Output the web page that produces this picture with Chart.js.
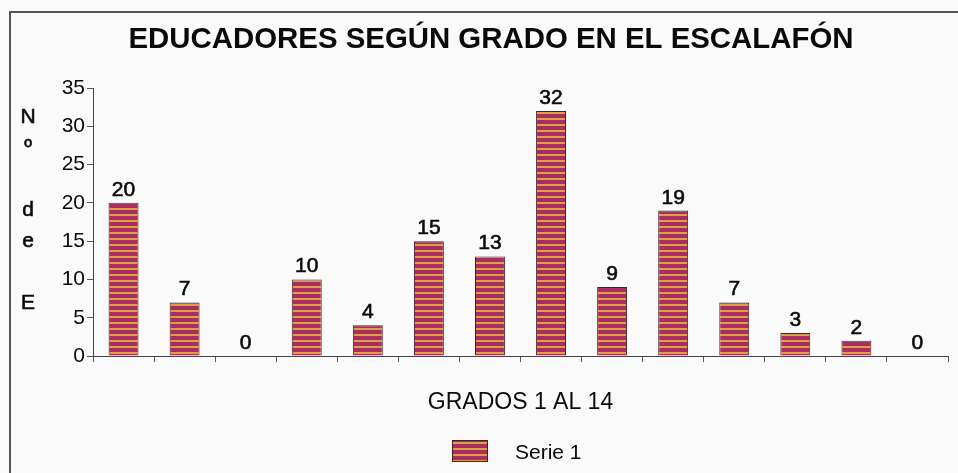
<!DOCTYPE html>
<html>
<head>
<meta charset="utf-8">
<script src="https://cdn.jsdelivr.net/npm/chart.js@4/dist/chart.umd.min.js"></script>
<style>
  html, body { margin: 0; padding: 0; background: #fafafa; }
  #wrap { position: relative; width: 958px; height: 473px; overflow: hidden; }
  #frame { position: absolute; left: 9px; top: 11px; right: -4px; bottom: -4px;
           border-left: 2px solid #555; border-top: 2px solid #555; }
  canvas { position: absolute; left: 0; top: 0; }
</style>
</head>
<body>
<div id="wrap">
  <div id="frame"></div>
  <canvas id="chart" width="958" height="473"></canvas>
</div>
<script>
const grados = ['1', '2', '3', '4', '5', '6', '7', '8', '9', '10', '11', '12', '13', '14'];
const educadores = [20, 7, 0, 10, 4, 15, 13, 32, 9, 19, 7, 3, 2, 0];
const yTicks = [0, 5, 10, 15, 20, 25, 30, 35];
const chartTitle = 'EDUCADORES SEGÚN GRADO EN EL ESCALAFÓN';
const yTitleLines = ['N', 'º', '', 'd', 'e', '', 'E'];
const xTitle = 'GRADOS 1 AL 14';
const serieLabel = 'Serie 1';

const canvas = document.getElementById('chart');
const ctx = canvas.getContext('2d');

// striped fill like the scanned bars
function stripes() {
  const c = document.createElement('canvas');
  c.width = 8;
  c.height = 6;
  const g = c.getContext('2d');
  g.fillStyle = '#ab2c60';
  g.fillRect(0, 0, 8, 6);
  g.fillStyle = '#d9a046';
  g.fillRect(0, 4, 8, 2);
  return ctx.createPattern(c, 'repeat');
}
const barFill = stripes();
const barEdge = '#4e1a26';

// text with a hair of stroke, the scan is heavier than plain Arial
function heavyText(c, s, x, y) {
  c.fillText(s, x, y);
  c.strokeText(s, x, y);
}

const decor = {
  id: 'decor',
  afterDatasetsDraw(chart) {
    const c = chart.ctx;
    const meta = chart.getDatasetMeta(0);
    c.save();
    c.fillStyle = '#0a0a0a';
    c.strokeStyle = '#0a0a0a';
    c.lineWidth = 0.6;

    // value labels
    c.font = '21px Arial';
    c.textAlign = 'center';
    c.textBaseline = 'alphabetic';
    meta.data.forEach((bar, i) => {
      heavyText(c, String(educadores[i]), bar.x, bar.y - 7);
    });

    // title
    c.font = 'bold 29.4px Arial';
    c.fillText(chartTitle, 491, 48);

    // stacked y title
    c.font = '21px Arial';
    c.textBaseline = 'middle';
    yTitleLines.forEach((s, i) => heavyText(c, s, 28, 117 + i * 31));

    // legend
    c.fillStyle = barFill;
    c.fillRect(452, 440, 36, 22);
    c.strokeStyle = barEdge;
    c.lineWidth = 1;
    c.strokeRect(452.5, 440.5, 35, 21);
    c.fillStyle = '#0a0a0a';
    c.textAlign = 'left';
    c.fillText(chart.data.datasets[0].label, 515, 453);
    c.restore();
  }
};

new Chart(ctx, {
  type: 'bar',
  data: {
    labels: grados,
    datasets: [{
      label: serieLabel,
      data: educadores,
      backgroundColor: barFill,
      borderColor: barEdge,
      borderWidth: 1,
      barPercentage: 0.49,
      categoryPercentage: 1.0
    }]
  },
  options: {
    responsive: false,
    animation: false,
    layout: { padding: { top: 88, right: 10, left: 0, bottom: 0 } },
    plugins: {
      legend: { display: false },
      title: { display: false },
      tooltip: { enabled: false }
    },
    scales: {
      x: {
        offset: true,
        grid: { offset: true, drawOnChartArea: false, drawTicks: true, tickLength: 6, color: '#555' },
        border: { color: '#444', width: 1 },
        ticks: { display: false },
        title: {
          display: true,
          text: xTitle,
          color: '#0a0a0a',
          font: { family: 'Arial', size: 23 },
          padding: { top: 0, bottom: 57 }
        },
        afterFit(scale) { scale.height = 117; }
      },
      y: {
        min: 0,
        max: 35,
        afterBuildTicks(scale) { scale.ticks = yTicks.map(v => ({ value: v })); },
        ticks: { color: '#0a0a0a', font: { family: 'Arial', size: 21 }, padding: 2 },
        grid: { drawOnChartArea: false, tickLength: 6, color: '#555' },
        border: { color: '#444', width: 1 },
        afterFit(scale) { scale.width = 93; }
      }
    }
  },
  plugins: [decor]
});
</script>
</body>
</html>
